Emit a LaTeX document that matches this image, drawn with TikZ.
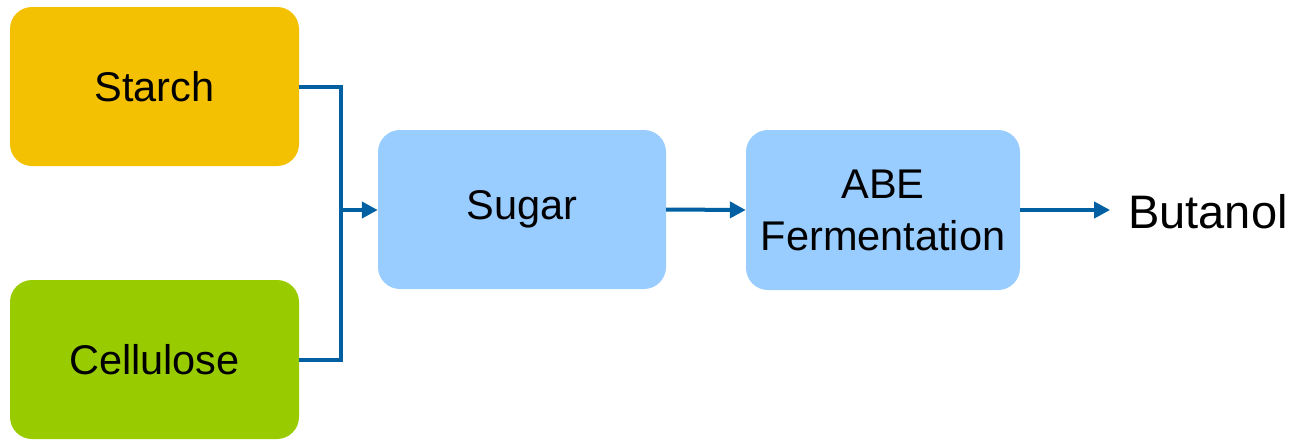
\documentclass[tikz,border=0pt]{standalone}
\usepackage{fontspec}
\setmainfont{Liberation Sans}
\usetikzlibrary{arrows.meta}
\definecolor{starchc}{HTML}{F4C002}
\definecolor{cellc}{HTML}{99CC00}
\definecolor{boxblue}{HTML}{99CCFF}
\definecolor{linec}{HTML}{0060A2}
\begin{document}
\begin{tikzpicture}[x=1pt,y=-1pt,
  procbox/.style={rounded corners=22pt, inner sep=0pt, align=center,
    font=\fontsize{41.5}{52}\selectfont},
  conn/.style={draw=linec, line width=4pt, line join=miter},
  arr/.style={conn, -{Triangle[length=16pt,width=16pt]}}]
\useasboundingbox (0,0) rectangle (1295,440);
\node[procbox, fill=starchc, minimum width=289pt, minimum height=159pt] (starch) at (154.5,86.5) {Starch};
\node[procbox, fill=cellc, minimum width=289pt, minimum height=159pt] (cell) at (154.5,359.5) {Cellulose};
\node[procbox, fill=boxblue, minimum width=288pt, minimum height=159pt] (sugar) at (522,209.5) {Sugar};
\node[procbox, fill=boxblue, minimum width=274pt, minimum height=160pt] (abe) at (883,210) {ABE\\Fermentation};
\node[font=\fontsize{47}{56}\selectfont, inner sep=18pt] (but) at (1208,212) {Butanol};
\coordinate (j) at (341,210);
\draw[conn] (starch.east) -| (j) |- (cell.east);
\draw[arr] (j) -- (sugar.west |- j);
\draw[arr] (sugar.east) -- (abe.west);
\draw[arr] (abe.east) -- (but.west |- abe.east);
\end{tikzpicture}
\end{document}
